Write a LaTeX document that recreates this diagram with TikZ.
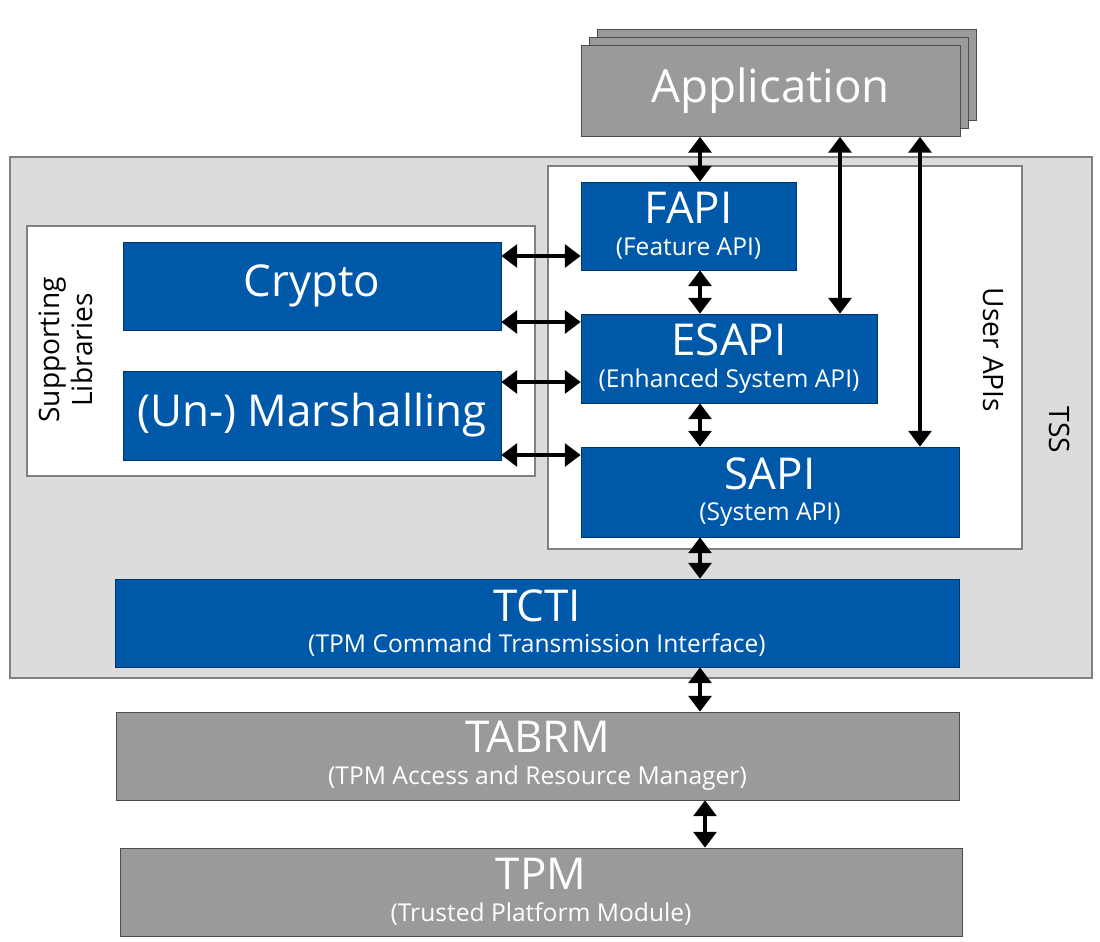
\documentclass[tikz,border=0pt]{standalone}
\usepackage{fontspec}
\setmainfont{Open Sans}
\usetikzlibrary{arrows.meta,positioning,calc}
\definecolor{tssblue}{HTML}{0059A8}
\definecolor{boxgray}{HTML}{9A9A9A}
\definecolor{tssbg}{HTML}{DCDCDC}
\tikzset{api/.style={draw=tssblue!60!black,fill=tssblue,text=white,align=center,inner sep=0pt,font=\fontsize{25}{26}\selectfont},
  hw/.style={api,draw=black!70,fill=boxgray},
  frame/.style={draw=black!50,line width=1.1pt,inner sep=0pt},
  tag/.style={align=center,font=\fontsize{16}{19}\selectfont},
  link/.style={{Triangle[width=13pt,length=9pt]}-{Triangle[width=13pt,length=9pt]},line width=2pt}}
\newcommand{\subtxt}[1]{{\fontsize{14}{16}\selectfont #1}}

\begin{document}
\begin{tikzpicture}[x=0.02cm,y=-0.02cm]
\useasboundingbox (0,0) rectangle (1100,942);
% containers
\node[frame,fill=tssbg,minimum width=21.64cm,minimum height=10.42cm] (tss) at (551,417.5) {};
\node[frame,fill=white,minimum width=9.48cm,minimum height=7.66cm] (userapi) at (785,357.5) {};
\node[frame,fill=white,minimum width=10.16cm,minimum height=5cm] (suplib) at (281,351) {};
\node[tag,rotate=-90] at (1060,430) {TSS};
\node[tag,rotate=-90] at (993,350) {User APIs};
\node[tag,rotate=90] at (66,350) {Supporting\\Libraries};
% application stack
\foreach \d/\n in {16/app3,8/app2,0/app}
  \node[hw,minimum width=7.58cm,minimum height=1.82cm] (\n) at (770.5+\d,91-\d) {};
\node[text=white,font=\fontsize{26}{28}\selectfont] at (app) {Application};
% user APIs
\node[api,minimum width=4.3cm,minimum height=1.76cm] (fapi) at (688.5,226) {FAPI\\[-8pt]\subtxt{(Feature API)}};
\node[api,minimum width=5.92cm,minimum height=1.78cm] (esapi) at (729,358.5) {ESAPI\\[-8pt]\subtxt{(Enhanced System API)}};
\node[api,minimum width=7.56cm,minimum height=1.8cm] (sapi) at (770,492) {SAPI\\[-8pt]\subtxt{(System API)}};
% supporting libraries
\node[api,minimum width=7.56cm,minimum height=1.76cm] (crypto) at (312,286) {Crypto};
\node[api,minimum width=7.56cm,minimum height=1.78cm] (marsh) at (312,415.5) {(Un-) Marshalling};
% lower layers
\node[api,minimum width=16.88cm,minimum height=1.76cm] (tcti) at (537,623) {TCTI\\[-8pt]\subtxt{(TPM Command Transmission Interface)}};
\node[hw,minimum width=16.86cm,minimum height=1.76cm] (tabrm) at (537.5,756) {TABRM\\[-8pt]\subtxt{(TPM Access and Resource Manager)}};
\node[hw,minimum width=16.84cm,minimum height=1.76cm] (tpm) at (541,892) {TPM\\[-8pt]\subtxt{(Trusted Platform Module)}};
% connectors
\coordinate (spine) at (700,0);
\coordinate (ax2) at (840,0);
\coordinate (ax3) at (920,0);
\draw[link] (app.south -| spine) -- (fapi.north -| spine);
\draw[link] (app.south -| ax2) -- (esapi.north -| ax2);
\draw[link] (app.south -| ax3) -- (sapi.north -| ax3);
\draw[link] (fapi.south -| spine) -- (esapi.north -| spine);
\draw[link] (esapi.south -| spine) -- (sapi.north -| spine);
\draw[link] (sapi.south -| spine) -- (tcti.north -| spine);
\draw[link] (tcti.south -| spine) -- (tabrm.north -| spine);
\draw[link] ([xshift=0.1cm]tabrm.south -| spine) -- ([xshift=0.1cm]tpm.north -| spine);
\draw[link] ([yshift=0.6cm]crypto.east) -- ([yshift=0.6cm]crypto.east -| fapi.west);
\draw[link] ([yshift=-0.72cm]crypto.east) -- ([yshift=-0.72cm]crypto.east -| esapi.west);
\draw[link] ([yshift=0.67cm]marsh.east) -- ([yshift=0.67cm]marsh.east -| esapi.west);
\draw[link] ([yshift=-0.79cm]marsh.east) -- ([yshift=-0.79cm]marsh.east -| sapi.west);
\end{tikzpicture}
\end{document}
